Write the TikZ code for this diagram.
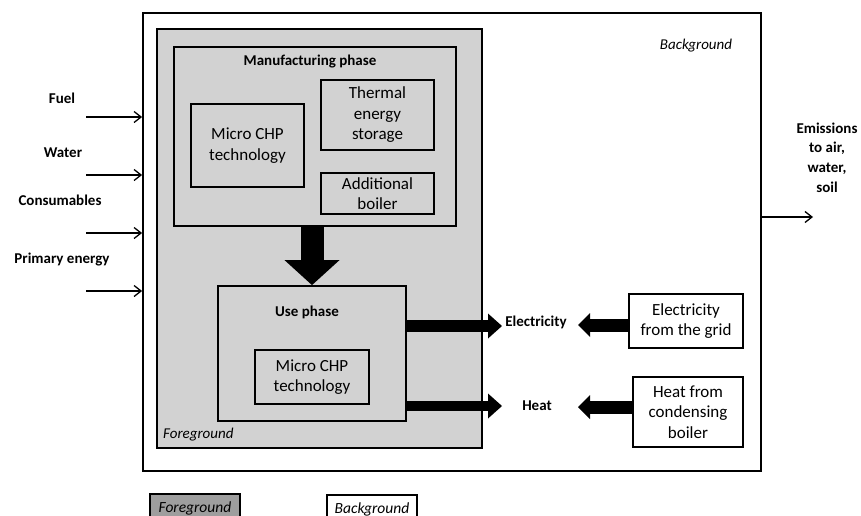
\documentclass[tikz,border=0pt]{standalone}
\usepackage{fontspec}
\setmainfont{Carlito}
\usetikzlibrary{arrows.meta,calc}
\definecolor{fgfill}{RGB}{210,210,210}
\definecolor{legfill}{RGB}{158,158,158}
\tikzset{
  frame/.style={draw, line width=1.8pt, inner sep=0pt, align=center},
  box/.style={frame, fill=fgfill, font=\fontsize{17}{20.5}\selectfont},
  wbox/.style={frame, fill=white, font=\fontsize{17}{20.5}\selectfont},
  lbl/.style={font=\fontsize{15}{19.7}\selectfont\bfseries, align=center, inner sep=0pt},
  itl/.style={font=\fontsize{15}{18}\selectfont\itshape, inner sep=0pt},
  flow/.style={line width=1.3pt, -{Straight Barb[length=7pt,width=11pt]}},
  downflow/.style={line width=23pt, -{Triangle[length=25pt,width=55pt,line width=0pt]}},
  outflow/.style={line width=#1, -{Triangle[length=14pt,width=25pt,line width=0pt]}},
  backflow/.style={line width=13pt, -{Triangle[length=12pt,width=24pt,line width=0pt]}},
  legend/.style={frame, minimum width=90pt, minimum height=28pt, font=\fontsize{15.5}{18}\selectfont\itshape},
}
\begin{document}
\begin{tikzpicture}[x=1pt,y=-1pt]
\useasboundingbox (0,0) rectangle (861,515);
\clip (0,0) rectangle (861,515);

% system boundary and foreground system
\node[wbox, minimum width=618pt, minimum height=458pt] (bg) at (452,242) {};
\node[box, minimum width=325pt, minimum height=419pt] (fg) at (319.5,238.5) {};
\node[itl] (bgt) at (696,46) {Background};
\node[itl, anchor=west] (fgt) at (163,435) {Foreground};

% manufacturing phase
\node[box, minimum width=282pt, minimum height=179pt] (mfg) at (315,136.5) {};
\node[lbl] (mfgt) at (310,62) {Manufacturing phase};
\node[box, minimum width=113pt, minimum height=83pt] (chpa) at (247.5,145.5) {Micro CHP\\technology};
\node[box, minimum width=113pt, minimum height=70pt] (tes) at (377.5,115) {Thermal\\energy\\storage};
\node[box, minimum width=113pt, minimum height=41pt] (ab) at (377.5,193.5) {Additional\\boiler};

% use phase
\node[box, minimum width=188pt, minimum height=135pt] (use) at (312,353.5) {};
\node[lbl] (uset) at (307,312) {Use phase};
\node[box, minimum width=114pt, minimum height=54pt] (chpb) at (312,377) {Micro CHP\\technology};

\draw[downflow] (mfg.south -| use.north) -- (use.north);

% products and substituted supply
\node[lbl] (elec) at (536,322) {Electricity};
\node[lbl] (heat) at (537,406) {Heat};
\node[wbox, minimum width=114pt, minimum height=54pt] (grid) at (686,321) {Electricity\\from the grid};
\node[wbox, minimum width=110pt, minimum height=70pt] (cond) at (688,412) {Heat from\\condensing\\boiler};

\coordinate (eltip) at (502,326);
\coordinate (httip) at (502,406);
\coordinate (elback) at (578,325);
\coordinate (htback) at (578,407);
\draw[outflow=12pt] (use.east |- eltip) -- (eltip);
\draw[outflow=10pt] (use.east |- httip) -- (httip);
\draw[backflow] (grid.west |- elback) -- (elback);
\draw[backflow] (cond.west |- htback) -- (htback);

% inputs
\node[lbl] (fuel) at (62,98) {Fuel};
\node[lbl] (water) at (63,153) {Water};
\node[lbl] (cons) at (60,200) {Consumables};
\node[lbl] (prim) at (62,259) {Primary energy};
\coordinate (ina) at (86,117);
\coordinate (inb) at (86,175);
\coordinate (inc) at (86,233);
\coordinate (ind) at (86,291);
\foreach \c in {ina,inb,inc,ind}
  \draw[flow] (\c) -- (\c -| bg.west);

% emissions
\node[lbl] (emis) at (827,157.5) {Emissions\\to air,\\water,\\soil};
\coordinate (emout) at (813,217);
\draw[flow] (bg.east |- emout) -- (emout);

% legend
\node[legend, fill=legfill] (legfg) at (195,508) {Foreground};
\node[legend, fill=white] (legbg) at (372,509) {Background};
\end{tikzpicture}
\end{document}
